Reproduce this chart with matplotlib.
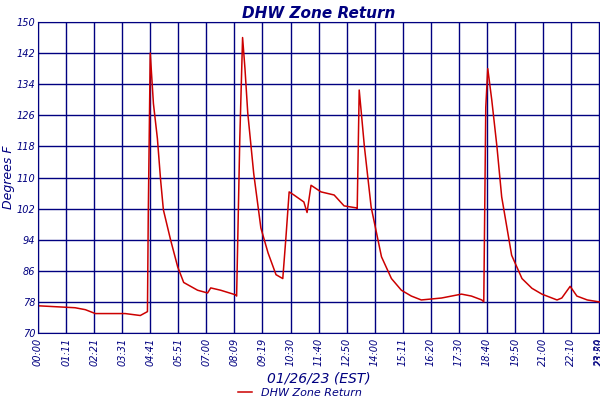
import matplotlib.pyplot as plt

# minutes after midnight and temperature (deg F)
minutes = [0, 93, 119, 144, 219, 257, 275, 277, 282, 290, 300, 308, 315, 333, 351, 366,
           401, 426, 434, 459, 497, 499, 507, 514, 520, 527, 542, 560, 578, 598, 615, 623,
           631, 643, 668, 676, 686, 711, 744, 769, 799, 802, 807, 812, 820, 837, 863, 888,
           913, 938, 963, 1014, 1064, 1089, 1115, 1120, 1125, 1130, 1140, 1153, 1165, 1190,
           1216, 1241, 1266, 1304, 1316, 1337, 1354, 1380, 1410]
temps = [77, 76.5, 76, 75, 75, 74.5, 75.5, 100, 142, 129, 120, 109.4, 101.7, 94, 87, 83,
         81, 80.3, 81.6, 81, 79.8, 79.5, 120, 146, 138, 126.6, 111, 97, 90.6, 85, 84, 94.7,
         106.3, 105.5, 103.7, 101, 108, 106.3, 105.5, 102.7, 102.2, 102, 132.5, 127, 118,
         102.4, 89.6, 84, 81, 79.5, 78.5, 79, 80, 79.5, 78.5, 78, 128, 138, 130, 118, 105,
         90, 84, 81.5, 80, 78.5, 79, 82, 79.5, 78.5, 78]

tick_labels = ["00:00", "01:11", "02:21", "03:31", "04:41", "05:51", "07:00", "08:09",
               "09:19", "10:30", "11:40", "12:50", "14:00", "15:11", "16:20", "17:30",
               "18:40", "19:50", "21:00", "22:10", "23:20"]

navy = "#000080"
fig = plt.figure(figsize=(6, 4), dpi=100)
ax = fig.add_axes([38 / 600, 1 - 333 / 400, 562 / 600, 311 / 400])
ax.plot(minutes, temps, color="#cc0000", lw=1.1, label="DHW Zone Return")

step = 70.5
ticks = [i * step for i in range(len(tick_labels))]
ax.set_xticks(ticks + [1412])
ax.set_xticklabels(tick_labels + ["23:59"], rotation=90, fontsize=7, style="italic", color=navy)
ax.set_xlim(0, 1412)
ax.set_ylim(70, 150)
ax.set_yticks(range(70, 151, 8))
ax.tick_params(axis="y", labelsize=7, labelcolor=navy, length=0, pad=2)
ax.tick_params(axis="x", length=0)
for lbl in ax.get_yticklabels():
    lbl.set_style("italic")
ax.grid(True, color=navy, lw=1)
for s in ax.spines.values():
    s.set_color(navy)

ax.set_title("DHW Zone Return", fontsize=11, style="italic", fontweight="bold", color=navy, pad=3)
ax.set_ylabel("Degrees F", fontsize=9, style="italic", color=navy, labelpad=1)
ax.set_xlabel("01/26/23 (EST)", fontsize=10, style="italic", color=navy, labelpad=4)
leg = fig.legend(loc="lower center", bbox_to_anchor=(0.5, -0.02), frameon=False,
                 fontsize=8, handlelength=1.2)
for t in leg.get_texts():
    t.set_color(navy)
    t.set_style("italic")

fig.savefig("out.png", dpi=100)
